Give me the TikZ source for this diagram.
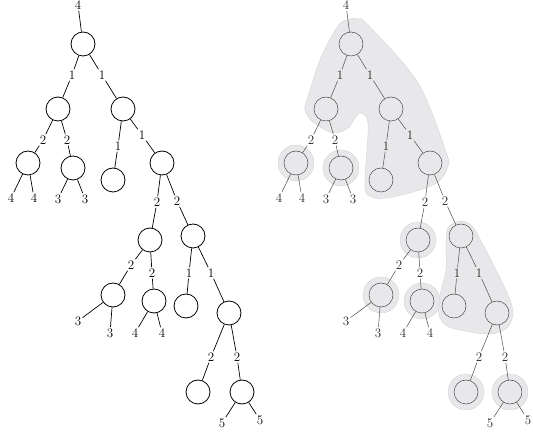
\documentclass[tikz,border=0pt]{standalone}
\usetikzlibrary{backgrounds}
\definecolor{blobfill}{RGB}{232,232,234}
\definecolor{blobline}{RGB}{212,212,216}
\newcommand\treebody{%
  \node[nd] (R) at (83,44) {};
  \node[nd] (A) at (58,109) {};
  \node[nd] (B) at (123,109) {};
  \node[nd] (C) at (28,163) {};
  \node[nd] (D) at (73,168) {};
  \node[nd] (E) at (113,180) {};
  \node[nd] (F) at (162,163) {};
  \node[nd] (G) at (150,240) {};
  \node[nd] (H) at (193,236) {};
  \node[nd] (I) at (113,295) {};
  \node[nd] (J) at (154,301) {};
  \node[nd] (K) at (186,306) {};
  \node[nd] (L) at (229,313) {};
  \node[nd] (M) at (198,392) {};
  \node[nd] (N) at (242,392) {};
  \node[lb] (t0) at (78,5) {4};
  \node[lb] (lRA) at (72,75) {1};
  \node[lb] (lRB) at (102,75) {1};
  \node[lb] (lAC) at (43,140) {2};
  \node[lb] (lAD) at (67,140) {2};
  \node[lb] (c1) at (11,198) {4};
  \node[lb] (c2) at (34,198) {4};
  \node[lb] (d1) at (58,199) {3};
  \node[lb] (d2) at (85,199) {3};
  \node[lb] (lBE) at (118,146) {1};
  \node[lb] (lBF) at (142,135) {1};
  \node[lb] (lFG) at (157,202) {2};
  \node[lb] (lFH) at (177,201) {2};
  \node[lb] (lGI) at (131,265) {2};
  \node[lb] (lGJ) at (152,273) {2};
  \node[lb] (i1) at (78,321) {3};
  \node[lb] (i2) at (110,333) {3};
  \node[lb] (j1) at (135,333) {4};
  \node[lb] (j2) at (162,333) {4};
  \node[lb] (lHK) at (189,273) {1};
  \node[lb] (lHL) at (211,273) {1};
  \node[lb] (lLM) at (211,357) {2};
  \node[lb] (lLN) at (237,357) {2};
  \node[lb] (n1) at (222,423) {5};
  \node[lb] (n2) at (260,420) {5};
  \draw[ed] (t0) -- (R);
  \draw[ed] (R) -- (lRA); \draw[ed] (lRA) -- (A);
  \draw[ed] (R) -- (lRB); \draw[ed] (lRB) -- (B);
  \draw[ed] (A) -- (lAC); \draw[ed] (lAC) -- (C);
  \draw[ed] (A) -- (lAD); \draw[ed] (lAD) -- (D);
  \draw[ed] (C) -- (c1); \draw[ed] (C) -- (c2);
  \draw[ed] (D) -- (d1); \draw[ed] (D) -- (d2);
  \draw[ed] (B) -- (lBE); \draw[ed] (lBE) -- (E);
  \draw[ed] (B) -- (lBF); \draw[ed] (lBF) -- (F);
  \draw[ed] (F) -- (lFG); \draw[ed] (lFG) -- (G);
  \draw[ed] (F) -- (lFH); \draw[ed] (lFH) -- (H);
  \draw[ed] (G) -- (lGI); \draw[ed] (lGI) -- (I);
  \draw[ed] (G) -- (lGJ); \draw[ed] (lGJ) -- (J);
  \draw[ed] (I) -- (i1); \draw[ed] (I) -- (i2);
  \draw[ed] (J) -- (j1); \draw[ed] (J) -- (j2);
  \draw[ed] (H) -- (lHK); \draw[ed] (lHK) -- (K);
  \draw[ed] (H) -- (lHL); \draw[ed] (lHL) -- (L);
  \draw[ed] (L) -- (lLM); \draw[ed] (lLM) -- (M);
  \draw[ed] (L) -- (lLN); \draw[ed] (lLN) -- (N);
  \draw[ed] (N) -- (n1); \draw[ed] (N) -- (n2);
}
\begin{document}
\begin{tikzpicture}[x=1pt,y=-1pt,
  lb/.style={inner sep=1.2pt, font=\fontsize{13}{15}\selectfont},
  blob/.style={fill=blobfill, draw=blobline, line width=0.4pt}]
\useasboundingbox (0,0) rectangle (533,435);
\begin{scope}[name prefix=L-,
  nd/.style={circle, minimum size=24pt, inner sep=0pt, draw=black, line width=0.8pt},
  ed/.style={draw=black, line width=0.7pt}]
  \treebody
\end{scope}
\begin{scope}[xshift=268pt, name prefix=Q-,
  nd/.style={circle, minimum size=24pt, inner sep=0pt, draw=black!70, line width=0.5pt},
  ed/.style={draw=black!70, line width=0.5pt},
  lb/.append style={text=black!85}]
  \treebody
  \begin{scope}[on background layer]
    \path[blob] plot[smooth cycle, tension=0.55] coordinates {
      (82,19) (70,26) (52,60) (39,100) (37,110) (45,122) (65,133) (80,128)
      (87,118) (92,113) (99,118) (100,133) (97,187) (104,197) (118,198)
      (145,192) (170,182) (180,166) (178,152) (150,83) (100,25) (90,19)};
    \path[blob] plot[smooth cycle, tension=0.55] coordinates {
      (192,221) (180,228) (178,245) (178,270) (172,295) (171,315) (179,326)
      (197,331) (222,334) (239,328) (245,313) (240,295) (227,268) (214,243) (204,226)};
    \path[blob] (Q-C) circle (18pt);
    \path[blob] (Q-D) circle (18pt);
    \path[blob] (Q-G) circle (18pt);
    \path[blob] (Q-I) circle (18pt);
    \path[blob] (Q-J) circle (18pt);
    \path[blob] (Q-M) circle (18pt);
    \path[blob] (Q-N) circle (18pt);
  \end{scope}
\end{scope}
\end{tikzpicture}
\end{document}
